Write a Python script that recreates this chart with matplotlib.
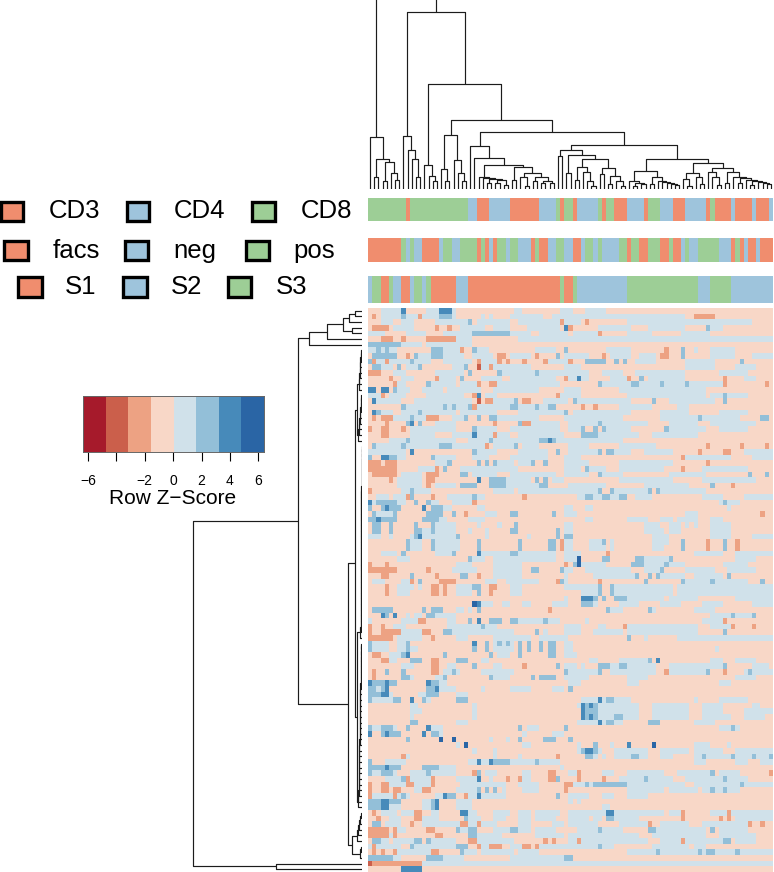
import re

import numpy as np
import matplotlib
matplotlib.use("Agg")
import matplotlib.pyplot as plt
from matplotlib.collections import LineCollection
from matplotlib.colors import BoundaryNorm, ListedColormap
from matplotlib.patches import Rectangle

W, H = 774, 872
N_COLS = 97

plt.rcParams["font.family"] = ["Liberation Sans", "DejaVu Sans"]

KEY_COLORS = ["#A61A2B", "#CB5F4B", "#EDA283", "#F8D7C7", "#D0E1EA", "#93BFD8", "#478ABA", "#2A65A5"]
KEY_EDGES = np.linspace(-6.35, 6.4, 9)
KEY_TICKS = [-6, -4, -2, 0, 2, 4, 6]
KEY_TICK_LABELS = ["\u22126", "", "\u22122", "0", "2", "4", "6"]

# z-score of each letter used in HEAT_ROWS
LEVELS = {"r": -3.9, "s": -2.4, "p": -0.8, "b": 0.8, "m": 2.4, "d": 3.9, "D": 5.5}

# one line per heatmap row, "p" everywhere unless a token says otherwise
HEAT_ROWS = [
    "b3-7 d8 b14-16 d17-19 b20 b35-36 b46-48 b52-56",
    "s1 b3-7 m8 b9-11 s12 b13-16 m17-19 b20 b27 b29 b34-41 b44-70 b71-75 s78-82",
    "b3-5 b8-10 b16-23 m24 b26-33 b36-45 s46 b47-50 s52 b62-91",
    "s1-4 b6-10 s16 s19 b22-27 b30-33 b38-45 d47 s48 b55-62 b67-75 m81 b82-84",
    "b0-3 b9-13 b18-24 m25-33 b34-38 b41-47 b49-54 s55 b62-67 b75-81",
    "s3-5 s8 s14-20 b21-24 b36-96",
    "m0-7 b8-12 b14-24",
    "b0-1 m2 b3 m4 b5-6 m15-17 b18-21 s22 m25 b26-28 b40-44 m47 b57-62 s71 m75 b78 b82-87",
    "m1-6 s9 m11 b12-14 m15-17 b18-22 b25-29 s31-32 b34-38 s40 m45 b47-52 s56 b58-62 b65-68 s70-71 m75 b82-87 b92-96",
    "m0 s1 s4 b2-3 b5-9 m10 b11-14 b18-24 s26 b27-30 s31 s33 s37 s42 b43-47 s48 m52-56 m59 m61 b64-68 b76-82 m89",
    "m1-2 m7 m12 m23 b3-5 b9-11 b20-22 r26 b27-28 s29 b30-38 b47-50 b76-82 b88-92",
    "s0-2 b6-8 b16-22 m24 m31 b32-40 m40 b41-52 b56-60 b64-75 b84-90",
    "s5 b8-10 s16 b17-20 m22 b27-31 b34-44 s47 d50 b48-52 b58-61 s62 m65 b67-75 s85 b90-92",
    "m14 s6 b7-8 b15-20 b22-25 s26 s29-30 b31-45 m55 b56-62 m63-64 b65-69 m70 b71-75 m76 b77-84 s85 s95",
    "d0-1 d3-4 m6 b7-9 b13-17 b19-26 b30-40 b47-50 b60-80",
    "b0-2 s3 b5-8 b14-22 s25 d26 b28-30 s45 b46-50 b62-80 m85 b82-90",
    "d1 b2-7 b11-24 r26 s28-29 b30-34 m35 s37-38 b42-47 m49 b50-62 m68 b72-82 m85",
    "m8 b9-17 m18 b19 m20 b21-23 m24 s25 b26-33 m34-35 b36-39 m40 b41-42 m43-44 s51 s54 b60-67 b74-76",
    "d1 m2 b3-5 b8-11 m12 b13-20 b22-30 b36-46 m47 b49-62 b70-76 b84-90",
    "s1 s3-5 b6-9 m10 b11-13 s14-16 b20-22 m23 m26 m29-30 b31-40 b47-60 b70-78 m79 b80-88 m94-95",
    "s4 m9 d10 m12 b16-20 s30 m36 s37-38 b39-45 b48-54 m55 b56-66 b72-78 b82-92",
    "s0 s3-4 s8 b10-20 m25 b26-30 b34-45 b48-50 m51 m54 m56 b57-62 m71 b72-80 b84-90",
    "s3-4 b10-15 b20-25 d25 b26-33 s30 b36-46 m51-54 b55-64 b68-78",
    "b5-9 m9 b10-20 b24-28 m29 b30-40 m41-42 d43 m44 b45-46 b47-60",
    "m1 b2-7 m8 b9-16 m17-19 b20-28 s28 b30-34 m35 b37-40 s81 s89 s95 b48-52 b60-68",
    "d10 b0-8 m25 b26-30 b36-42 m45 m55 m57-58 b48-54 b59-62 b66-72 s79 s85-86 b90-96",
    "m0 d3-4 m5-6 b7-8 m15 b16-20 b25-28 b34-42 b47-50 s75 b76-86 b92-96",
    "s0-2 s4-6 m19 b16-18 m26 m28 m30 b31-34 m39 m42 b36-38 b47-52 b60-72 s81",
    "s0-6 s16 m18 b12-15 b22-35 b47-50 m52 b53-56 b60-70 s75 b80-90",
    "s1-6 s14-16 b8-12 m22-23 b25-30 b34-44 b47-52 m55 b56-60 b72-80 m91 m95",
    "s5 s14-15 b7-12 d26 m29-32 b33-38 m40 m42 b44-46 b60-72 b80-92",
    "s14 b7-12 b16-20 m22-25 m29-32 b33-40 m41-42 b48-56 b66-76 m82 s87",
    "s0 m10 b8-9 b11-14 b30-34 b36-46 m55 m58 m67 m69 b47-54 b59-66 b70-80",
    "s9 m10 s15 m25 s37 b2-4 b6-8 b19-24 b26-27 b50-51 m52-53 b54-55 m56-57 b58-59 m60-61 b64-67 b80-84 b90-96",
    "d0 m2-6 m11 m14 s25 b1 b7-8 b15-16 b20-24 b84 m85 b86-88",
    "m0 m3-7 d4 d13 m15-17 b18-19 b47-48 b26-27 b52-53 b86",
    "m1 m6 b2-5 m14-17 m20 s23 m34-35 m44 b28-30 b47-49 b76-78 s94",
    "m0-1 d2 m3-6 m13-16 b17-18 b24-27 b52-53 b62-66 b70-72 b74-78 b82-84",
    "m1-2 m5 m11 m15 b16-20 b26 b31 m35 b47-48 b66-69 b72-74 b76 b78 b82-86",
    "m1-2 m5 m11-12 b13-15 m15 b16-20 m34-35 b24 b28 b47-48 b66-70 b72-74 b82-86 m45",
    "d12 m11 m21 m45 b0-2 b5 b10-20 b28 b38 m47-48 b68-71 b82-86 b92-96",
    "m9 m15 m26 m36 m43-44 s46 b10-12 b16-21 b47-48 m56 m75 s81 m85 s88 b53-55 b58 b68-71",
    "m9 m15 m26 m36 m43-44 s46 b10-12 b16-21 m75 s81 m85 s88 b47-48 b53-56 b58 b68-70",
    "m8 m20 d26 m34-35 b3-6 b16-19 b27-44 b47-50 s57 b78-84 b88-96",
    "m24 b7-9 b25-27 b30-44 b47-48 D50 b49 m56-57 m64-65 m72 b66-71 b88-92",
    "s0 s4 s47 b21-24 b30-36 m49 D50 b50-56 m63-65 m71 b66-70 b72-75 b85-90",
    "s0-6 s14 m39-40 m46 b20-25 b30-36 b47-48 b52-62 m70 b66-69 b76-82 b86-92",
    "s3-4 m10 s16 m22-23 s26 b30-36 b47 b54-63 m64 m67 m69 b70-75 m86 b78-84",
    "s10 m12 s17-20 s45 m46 b1-3 b8-9 b28-30 b33-40 b47 s55 m66 m75 m82 m94 b76-90",
    "s4 s15-16 s18 m25-26 s29-30 b7-10 b12 b21-24 b34-36 b47-50 m55 b51-54 m58 b59-72 b74-96",
    "s4 s15-16 s18 m26 s29 b7-9 b21-24 b34-36 b51-54 m55 m58 b59-72 b74-96",
    "b47 d51-53 m54 m56 m59-61 b62-70 b72-78 b88-96",
    "D25 d26 b27-29 b32-33 b37-38 b44-47 m51-53 b54 b60-64 b70-74 b80-84 b92-96",
    "m1-5 m13 m15-17 m26 s43 b21-22 b24 m57 b58-60 m67 b68 b78-82",
    "d3 m4 d6 m14-15 b9 b11-12 b16-20 m87 m92 b82-86 b88-91",
    "s12-13 m24 d26 m29-31 m34-35 m42 b0 b8-11 b19-20 b36-41 b43-45 b52 s85 b80-84",
    "s0 s3 m27 b6-8 b19-30 b47-50 b55-56 s61 b62-78 s87 s92 b82-86",
    "s0 s3-7 s13-14 m18-19 m40 b8-12 b20-34 b42 b47-50 b54-60 b62-78 m85",
    "s0-5 s15 b7-12 b21-23 b30-38 m62 b66 b74-96 b41-47",
    "m0 m9 d25 m28 m31 m33 m36 m38 m41 m43-44 b1-4 b7-8 b30-34 b47-48",
    "m0 m9 m25 m28 m36 m38 m41 m43-44 b1-4 b7-8 b10-11 b30-34 b47-48 b83",
    "s1-2 m8 d9 m18 m29 m36 m43-44 b5-7 b31-33 b47-49",
    "s3-4 m10-12 s15-16 m21-23 b5-6 b27-28 b53-54 m67 d69 b60-66 b82-84 b88-92",
    "s15-16 m25 s37 m45 b8-10 b19-20 b30-31 b47-49 b51 m55-57 m60-61 b58-59 b62-68 m85 b72-84 b92-95",
    "s1 m4 m8 s15-16 m20 b18-19 b21 b27-34 m47 m55 s71 m81 s85 m91 b48-54 b58-68 b72-80 b90-96",
    "s1 m8-9 m18 m29 m39 m41-44 b10 b16-17 b30-33 b47-52 b62-66 b88-92",
    "d0 m1-3 d4 m5-6 d14 m15-16 b17-18 b48-50 b62-64 b84-86",
    "m0-1 m3 d4 b2 m14-15 d16 b17-20 b27 b34-38 m48 b44-46",
    "m0-2 d3-4 m14-16 b5 b12-13 b21-23",
    "m0 m6-7 d10 m13 m21-23 b1-5 b14 d55 m57-58 b51-54 b56 b59-62 b78 b84-90",
    "b10-11 b25 d51 m52 d53 m54 b50 b55-64 b68-76 b80-84 b92-93",
    "b10-12 b25 d51 m52-54 b55-64 b68-76 b80-84 b90-96",
    "b10 b25 d51 m52 d53 m54 b55-58 m59-60 b61-64 b68-76 b80-86 b90-94",
    "m10-11 b21-23 d55 m57-58 m67-69 b50-54 b56 b59-60 b78-82",
    "m0 m3-5 m9 d14 b1-2 b6 b15-17 m36 m47 m87 b38-40 b84-88",
    "d0 m3 d4 m5-7 d13 m15-16 b17 b44-46 b37",
    "m9 D17 D20 m36 m42-44 b29 m48 b33",
    "D23 b21 b37-38 d62 D68 m54 b50 b58 b78-81 b86",
    "b25 b30 m51 d52-53 m54 b50 b55 b59-66 b70-76 b78-84 b88-96",
    "s8 b9 s45 b30 b36 m52-53 b54 b56 b59-62 m63-64 b65-66 b70-72 m80 m87 m92 m96 b78-79 b81-86 b88-91 b93-95",
    "d26 d29 m30-33 m40 m0 b4-8 b24-25 b27-28 b34-39 b41-45 b78-80 b88-90 b94-96",
    "m0-3 d4 m5-7 m13-16 b17-20 b46",
    "m0 m3-5 m14 s25 m26 s43-44 b1-2 b6 b10-13 b15-20 b28-30 b37-38 s50 b48-49 b56-58 b62-70 b74-81 m82 s96 b84-88",
    "m8 s9 s15 d26 s33 s36 s43-44 m45 b4-7 b10-14 b21-25 b29 b37-38 s50 s56 b60-65 m66 b67-72 b76-84 m85 b86-90",
    "s0 s3-4 s9-10 s15 s47-48 b5-8 b11-14 b22-32 b36-40 m52 m54-61 m89 b49-51 b53 b62-75 b78-88 b90-96",
    "s0 s3-4 s6-7 s13-14 m26 m28 m30 b11-12 b21-25 b32 b37-40 s47 b62-70 b72-78 m82 m85 b80-88",
    "s0 s6 m8 d18 m19-20 s23 d26 m45 b1-5 b7 b9 b16-17 b24-25 b27-32 b48-52 b56-58 b62-66",
    "m0-2 d3-4 m5-7 m15 d16 b13-14 b21-24 b48 b50",
    "m0-2 d3-4 b5-7 d16 m15 b13-14 b21-24 b56-57",
    "s1 s11-12 d22-23 b3-6 b8-10 b15-16 b24-25 b30-33 b36-38 b40-45 d57-58 s75 s86 b48-56 b59-70 b72-74 b82-96",
    "s2 s11-12 m23 b5-7 b13-16 b24-26 b30-32 b36-38 b40-44 m57-58 s75 s84 s86 b48-52 b54-55 b59-64 b88-96",
    "m1-2 s10 s22-23 s26 b4-7 b13-25 b27-30 b36-38 b44-46 s67 s91 s94 b48-54 b60-66 b70-76 b80-90",
    "s0-4 s6 s14-15 m21 m24-25 m34-35 b7-8 b22-23 b30-33 b36-38 b40-44 m55 m67-68 m82 b50-54 b56-60 b69-80 b84-90",
    "s0-4 s6 s16-17 m24-25 b5 b26-31 b40-46 b48-64 b68-80 b84-92",
    "m1-2 m11-12 m14 s24-25 s42 s44 b3-4 b6-10 b15-20 b26-34 s50 s75 m85-86 b48-49 b51-66 b70-74 b76-84 b88-92",
    "s1 m10 m21-23 s26 s29-31 s37-38 s40 b0 b2-7 b11-20 b27-28 b34-36 b41-46 b47-54 m55 b56-58 b68-76 b78-80",
    "s1 s3 s6 s15-16 m22 b7-14 b23-25 b27-34 b36-40 b62-68 m69 b70-78 m79 b80 m81-82 b83-87 m88 b89-96",
    "m0-5 m14-17 m47-48 b6-7 b18-22 b34-46",
    "r0 s1-12 b13-96",
    "d8-12",
]

# annotation bars above the heatmap: S = first group, B = second, G = third
ANNOT_COLORS = ["#F08D6E", "#9EC4DC", "#9DCE96"]
BAR_CELL = list("GSGBSBSBGSGSBGSGSBSGBSBSGSBSBSB")
BAR_CELL_RUNS = [9, 1, 14, 2, 3, 5, 7, 4, 1, 1, 2, 1, 5, 1, 1, 2, 3, 4, 1, 3, 3, 3, 5, 1, 1, 4, 1, 4, 1, 3, 1]
BAR_SORT = list("SGBGBSBGBGSGSBSGBGBSGSBGBSBGBGBGSGSGSGSBGBGBSGSBSBS")
BAR_SORT_RUNS = [8, 1, 1, 1, 2, 4, 1, 2, 2, 4, 1, 1, 1, 1, 1, 2, 1, 2, 3, 1, 1, 2, 2, 2, 2, 2, 1, 2, 1, 1, 4, 2,
                 1, 2, 2, 3, 2, 1, 2, 1, 1, 2, 5, 3, 1, 1, 1, 1, 2, 1, 3]
BAR_STAGE = list("BGSGBSBGBGSBSGSGBGBGB")
BAR_STAGE_RUNS = [1, 2, 2, 1, 2, 2, 1, 2, 1, 1, 6, 3, 22, 1, 2, 1, 12, 17, 3, 5, 10]

LEGEND_LINES = [["CD3", "CD4", "CD8"], ["facs", "neg", "pos"], ["S1", "S2", "S3"]]


def stair(heights):
    node = (heights[0], 0, 0)
    for h in heights[1:]:
        node = (h, node, 0)
    return node


# column dendrogram: (merge height, left, right), 0 is a leaf
COL_A = (52, 0, (30, (12, 0, 0), (27, (8, 0, 0), (16, 0, (9, 0, 0)))))
COL_B = (53, 0, (39, 0, (30, 0, (12, 0, 0))))
COL_C = (24, 0, (13, 0, (8, 0, 0)))
COL_D = (54, (20, 0, (8, 0, 0)), (29, 0, (16, 0, (8, 0, 0))))
COL_F = (12, 0, (11, 0, (10, (6, 0, 0), (9, (6, 0, 0), (4, 0, 0)))))
COL_G = (22, (9, 0, 0), (16, (12, 0, (3, 0, 0)), (12, (8, 0, 0), (8, (6, 0, 0), (6, 0, 0)))))
COL_E = (43, 0, (31, 0, (24, COL_F, COL_G)))
COL_I = (39, (33, 0, 0), (34, (16, 0, 0), (30, (22, (9, 0, 0), (17, 0, (8, 0, (3, 0, 0)))),
                                           (21, (15, 0, 0), (13, (5, 0, 0), (8, 0, (3, 0, 0)))))))
COL_J1 = (18, (8, 0, (6, (3, 0, 0), (5, 0, 0))), (12, (5, 0, 0), (8, 0, (7, 0, (6, 0, (5, 0, (4, 0, 0)))))))
COL_J2 = (26, (16, (10, 0, (3, 0, 0)), (12, 0, (5, 0, 0))),
          (21, (17, 0, (12, 0, (4, 0, 0))),
           (17, (6, 0, 0), (12, 0, (11, (6, 0, 0), (9, 0, (8, (4, 0, 0), (7, 0, (6, 0, (5, 0, 0))))))))))
COL_H = (44, COL_I, (30, COL_J1, COL_J2))
COL_TREE = (260, COL_A, (177, COL_B, (105, COL_C, (69, COL_D, (57, COL_E, COL_H)))))

# row dendrogram
ROW_TOP = (53, (35, (19, (13, (7, 0, 0), 0), (10, 0, 0)), 0), 0)
ROW_A1 = [1.0, 1.3, 1.6, 2.0, 2.4, 2.8, 3.4]
ROW_A2 = [0.8, 1.1, 1.4, 1.8, 2.2, 2.7, 3.2, 3.8]
ROW_B1 = [0.2, 0.3, 0.3, 0.4, 0.4, 0.5, 0.5, 0.5, 0.6, 0.6, 0.6, 0.7, 0.7, 0.7, 0.8, 0.8, 0.8,
          0.9, 0.9, 0.9, 1.0, 1.0, 1.0, 1.1, 1.1, 1.1, 1.2, 1.2, 1.3, 1.3, 1.4, 1.4, 1.5, 1.6]
ROW_B2 = [0.6, 0.8, 1.0, 1.1, 1.2, 1.3, 1.4, 1.5, 1.6, 1.7, 1.8, 1.9, 2.0, 2.1, 2.2, 2.3, 2.4,
          2.5, 2.6, 2.7, 2.8, 2.9, 3.0, 3.1, 3.2, 3.3, 3.5, 3.7, 3.9]
ROW_L1 = [1.5, 2.5, 3.0, 4.0, 4.8]
ROW_L2 = [1.0, 2.0]
ROW_UPPER = (7, (5, stair(ROW_A1), stair(ROW_A2)), (4.6, stair(ROW_B1), stair(ROW_B2)))
ROW_LOWER = (10, stair(ROW_L1), stair(ROW_L2))
ROW_TREE = (169, (64, ROW_TOP, (14, ROW_UPPER, ROW_LOWER)), (86, 0, 0))


def px_axes(fig, x0, y0, x1, y1):
    return fig.add_axes([x0 / W, 1 - y1 / H, (x1 - x0) / W, (y1 - y0) / H])


def parse_row(text):
    row = np.full(N_COLS, LEVELS["p"])
    tokens = sorted(text.split(), key=lambda t: t[0] != "b")
    for tok in tokens:
        m = re.fullmatch(r"([a-zA-Z])(\d+)(?:-(\d+))?", tok)
        a = int(m.group(2))
        b = int(m.group(3)) if m.group(3) else a
        row[a:b + 1] = LEVELS[m.group(1)]
    return row


def walk(node, state, segs):
    """Lay the leaves out left to right, collect the segments, return (position, height)."""
    if node == 0:
        state[0] += 1
        return state[0] - 0.5, 0.0
    h, left, right = node
    pl, hl = walk(left, state, segs)
    pr, hr = walk(right, state, segs)
    segs.append([(pl, hl), (pl, h), (pr, h), (pr, hr)])
    return (pl + pr) / 2, h


def bar_codes(labels, runs):
    codes = np.repeat(["SBG".index(c) for c in labels], runs)
    assert len(codes) == N_COLS, len(codes)
    return codes[None, :]


fig = plt.figure(figsize=(W / 100, H / 100), dpi=100)

# heatmap
Z = np.array([parse_row(t) for t in HEAT_ROWS])
n_rows = Z.shape[0]
cmap = ListedColormap(KEY_COLORS)
norm = BoundaryNorm(KEY_EDGES, cmap.N)
ax = px_axes(fig, 368, 308, 773, 872)
ax.pcolormesh(np.arange(N_COLS + 1), np.arange(n_rows + 1), Z, cmap=cmap, norm=norm, linewidth=0)
ax.set_ylim(n_rows, 0)
ax.axis("off")

# annotation bars
annot_cmap = ListedColormap(ANNOT_COLORS)
for (y0, y1), (labels, runs) in zip([(198, 221), (238, 262), (276, 303)],
                                    [(BAR_CELL, BAR_CELL_RUNS), (BAR_SORT, BAR_SORT_RUNS), (BAR_STAGE, BAR_STAGE_RUNS)]):
    ax = px_axes(fig, 368, y0, 773, y1)
    ax.pcolormesh(np.arange(N_COLS + 1), [0, 1], bar_codes(labels, runs), cmap=annot_cmap, vmin=0, vmax=2, linewidth=0)
    ax.axis("off")

# top dendrogram
ax = px_axes(fig, 368, 0, 773, 189.5)
segs = []
state = [0]
walk(COL_TREE, state, segs)
assert state[0] == N_COLS, state[0]
ax.add_collection(LineCollection(segs, colors="#1c1c1c", linewidths=0.85))
ax.set_xlim(0, N_COLS)
ax.set_ylim(0, 189.5)
ax.axis("off")

# left dendrogram
ax = px_axes(fig, 180, 308, 362, 872)
segs = []
state = [0]
walk(ROW_TREE, state, segs)
assert state[0] == n_rows, state[0]
ax.add_collection(LineCollection([[(h, p) for p, h in s] for s in segs], colors="#1c1c1c", linewidths=0.85))
ax.set_xlim(182, 0)
ax.set_ylim(n_rows, 0)
ax.axis("off")

# colour key
ax = px_axes(fig, 83, 395.7, 264, 451.7)
ax.pcolormesh(KEY_EDGES, [0, 1], ((KEY_EDGES[:-1] + KEY_EDGES[1:]) / 2)[None, :], cmap=cmap, norm=norm, linewidth=0)
ax.set_xticks(KEY_TICKS)
ax.set_xticklabels(KEY_TICK_LABELS, fontsize=10)
ax.set_yticks([])
ax.tick_params(axis="x", length=6.5, width=0.8, pad=9.5)
for sp in ax.spines.values():
    sp.set_linewidth(0.7)
    sp.set_color("#666666")
fig.text(173 / W, 1 - 498.5 / H, "Row Z\u2212Score", fontsize=15, ha="center", va="center")

# legend
legend_layout = [
    (211, [(0.7, 23, 75), (127, 149, 200), (252, 275, 326)], 201.7, 221),
    (251, [(4, 28, 76), (125, 148, 195), (246, 269, 314)], 241, 260),
    (287, [(18, 42, 81), (123, 147, 187), (228, 251, 292)], 277, 297),
]
for (yc, items, y0, y1), names in zip(legend_layout, LEGEND_LINES):
    for (x0, x1, xt), name, col in zip(items, names, ANNOT_COLORS):
        fig.add_artist(Rectangle((x0 / W, 1 - y1 / H), (x1 - x0) / W, (y1 - y0) / H, transform=fig.transFigure,
                                 facecolor=col, edgecolor="black", linewidth=2.4))
        fig.text(xt / W, 1 - yc / H, name, fontsize=18.5, ha="center", va="center")

fig.savefig("out.png", dpi=100)
